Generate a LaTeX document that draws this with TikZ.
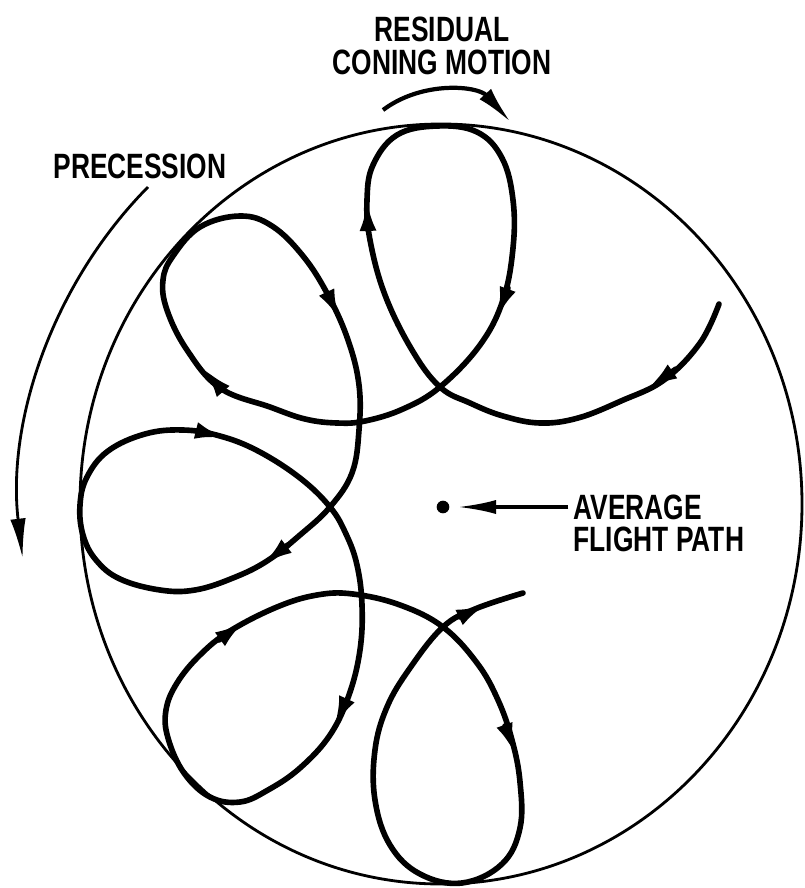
\documentclass[tikz,border=0pt]{standalone}
\usepackage{fontspec}
\setmainfont{Liberation Sans}[FakeStretch=0.75]
\usepackage{tikz}
\usetikzlibrary{arrows.meta, positioning}
\tikzstyle{rim}       = [line width=2pt]
\tikzstyle{coning}    = [line width=4pt, line join=round, line cap=round]
\tikzstyle{conarrow}  = [-{Latex[length=22pt, width=12pt]}]
\tikzstyle{lettering} = [inner sep=0pt, font=\bfseries\fontsize{25}{23}\selectfont]
\begin{document}
\begin{tikzpicture}[x=0.025cm, y=-0.025cm]
\useasboundingbox (0,0) rectangle (804,888);

% limit circle of the coning motion
\draw[rim] (441,504) ellipse [x radius=361, y radius=380];

% average flight path
\node (avg) [circle, fill, inner sep=0pt, minimum size=9pt] at (443,507) {};
\node (avgtxt) [lettering, align=left, font=\bfseries\fontsize{25}{23}\selectfont,
                right=88pt of avg, yshift=-11.5pt] {AVERAGE\\FLIGHT PATH};
\draw[line width=2.2pt, -{Latex[length=27pt, width=10pt]}, shorten >=6pt]
     (avgtxt.west |- avg) ++(-5,0) -- (avg);

% precession
\node (prec) [lettering] at (140,166) {PRECESSION};
\draw[rim, -{Latex[length=28pt, width=11pt]}]
     (148,187) arc[start angle=226, end angle=173, x radius=421, y radius=441];

% residual coning motion
\node (resid) [lettering, align=center, font=\bfseries\fontsize{25}{23.5}\selectfont]
      at (442,46) {RESIDUAL\\CONING MOTION};
\draw[line width=3pt, -{Latex[length=27pt, width=11pt]}]
     (383,110) arc[start angle=-127, end angle=-42, radius=95];

% path of the nose
\draw[coning] plot[smooth, tension=0.65] coordinates {
  (719,304) (700,343) (664,380) (621,401) (578,418) (540,423) (503,416) (470,403) (440,387)
  (412,350) (385,295) (370,240) (367,200) (373,165) (397,135) (437,126) (477,132) (502,158)
  (513,200) (513,248) (503,300) (480,345) (440,387)
  (403,409) (365,421) (337,423) (305,419) (270,407) (220,388) (187,350) (167,310) (163,280)
  (173,256) (200,227) (240,216) (272,226) (303,256) (328,295) (348,340) (359,385)
  (359,430) (352,473) (330,507)
  (300,535) (267,561) (233,578) (195,590) (160,590) (120,579) (96,560) (83,535) (80,505)
  (87,477) (108,451) (145,434) (183,430) (220,436) (258,451) (300,478) (330,507)
  (346,534) (357,565) (362,605) (360,650) (349,695) (330,735) (300,768) (268,790) (240,802)
  (210,797) (184,773) (168,738) (166,710) (177,683) (200,655) (230,631) (277,607) (317,595)
  (353,594) (400,605) (443,627)
  (477,663) (498,700) (512,740) (520,782) (520,828) (502,864) (462,883) (420,874) (390,845)
  (375,800) (375,750) (387,707) (410,668) (443,627) (475,609) (523,593)};

% direction marks
\foreach \ax/\ay/\bx/\by in {676/369/647/389, 368/230/367/200, 508/288/497/318,
    328/295/340/320, 222/390/203/368, 198/431/226/438, 288/545/262/565,
    345/703/334/727, 219/640/245/621, 505/726/515/754, 460/617/487/604}
  \draw[coning, conarrow] (\ax,\ay) -- (\bx,\by);

\end{tikzpicture}
\end{document}
